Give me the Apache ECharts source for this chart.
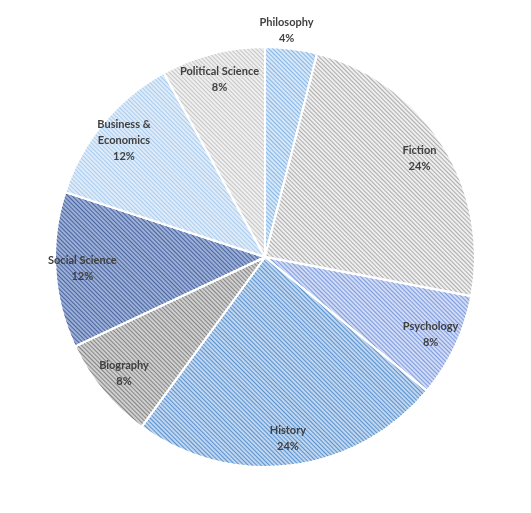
<!DOCTYPE html>
<html>
<head>
<meta charset="utf-8">
<script src="https://cdn.jsdelivr.net/npm/echarts@6/dist/echarts.min.js"></script>
<style>
  html, body { margin: 0; padding: 0; background: #fff; }
  #chart { width: 531px; height: 513px; }
</style>
</head>
<body>
<div id="chart"></div>
<script>
// 数据
var categories = ['Philosophy', 'Fiction', 'Psychology', 'History', 'Biography',
  'Social Science', 'Business &\nEconomics', 'Political Science'];
var values = [4, 24, 8, 24, 8, 12, 12, 8];
// 底色 / 斜线颜色
var baseColors = ['#d6e7f8', '#eeeeee', '#cfdaf5', '#c0d6ef', '#cfcfcf', '#9cafd6', '#deebf9', '#efefef'];
var lineColors = ['#86b6e6', '#adadad', '#7f9bdd', '#5a92cf', '#858585', '#4a649f', '#abcdee', '#c6c6c6'];

var chart = echarts.init(document.getElementById('chart'));

var pieData = categories.map(function (name, i) {
  return {
    name: name,
    value: values[i],
    itemStyle: {
      color: baseColors[i],
      decal: {
        symbol: 'rect',
        dashArrayX: [1, 0],
        dashArrayY: [1, 1.6],
        rotation: Math.PI / 4,
        color: lineColors[i]
      }
    }
  };
});

// 透明的环形系列，只用来把标签放到靠外的位置
var labelData = categories.map(function (name, i) {
  var item = { name: name, value: values[i] };
  if (i === 0) {
    item.label = { position: 'outside' };
    item.labelLine = { show: false, length: 18, length2: 0 };
  }
  return item;
});

var option = {
  backgroundColor: '#fff',
  aria: { enabled: false },
  series: [
    {
      type: 'pie',
      center: [265, 257],
      radius: [0, 210],
      startAngle: 90,
      clockwise: true,
      silent: true,
      label: { show: false },
      labelLine: { show: false },
      itemStyle: { borderColor: '#fff', borderWidth: 2 },
      data: pieData
    },
    {
      type: 'pie',
      center: [265, 257],
      radius: [150, 210],
      startAngle: 90,
      clockwise: true,
      silent: true,
      itemStyle: { color: 'rgba(0,0,0,0)' },
      label: {
        show: true,
        position: 'inside',
        formatter: '{b}\n{c}%',
        color: '#404040',
        fontFamily: 'Lato',
        fontWeight: 'bold',
        fontSize: 11,
        lineHeight: 16,
        align: 'center'
      },
      labelLine: { show: false },
      labelLayout: function (params) {
        if (params.dataIndex === 0) {
          return { align: 'center', dx: -12 };
        }
      },
      data: labelData
    }
  ]
};

chart.setOption(option);
</script>
</body>
</html>
